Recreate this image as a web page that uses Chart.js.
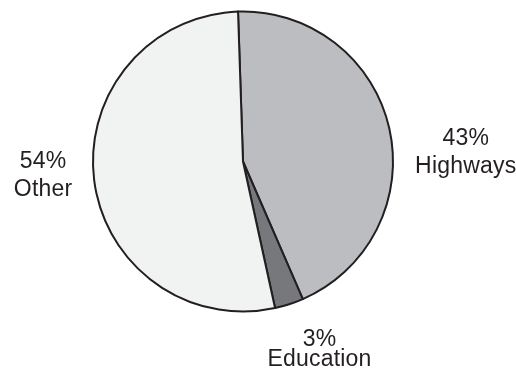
<!DOCTYPE html>
<html>
<head>
<meta charset="utf-8">
<script src="https://cdn.jsdelivr.net/npm/chart.js@4/dist/chart.umd.min.js"></script>
<style>
  html, body { margin: 0; padding: 0; background: #fff; }
  #wrap { width: 516px; height: 371px; }
</style>
</head>
<body>
<div id="wrap"><canvas id="myPieChart" width="516" height="371"></canvas></div>
<script>
// slices, clockwise from the top
var categories = ['Highways', 'Education', 'Other'];
var shares = [44, 3.1, 52.9];          // share of the circle as drawn
var shareText = ['43%', '3%', '54%'];  // printed next to each slice
var sliceColors = ['#bcbdc0', '#77787b', '#f1f2f2'];

// where each label sits, in units of the pie radius from its centre,
// plus the gap between the two text lines
var labelPlace = [
    { dx: 1.485, dy: -0.107, gap: 28 },
    { dx: 0.51, dy: 1.23, gap: 20 },
    { dx: -1.333, dy: 0.04, gap: 28 }
];

var sliceLabels = {
    id: 'sliceLabels',
    afterDatasetsDraw: function(chart) {
        var ctx = chart.ctx;
        var arcs = chart.getDatasetMeta(0).data;
        ctx.save();
        ctx.fillStyle = '#231f20';
        ctx.font = '23px "Liberation Sans", Arial, sans-serif';
        ctx.letterSpacing = '0.2px';
        ctx.textAlign = 'center';
        ctx.textBaseline = 'alphabetic';
        arcs.forEach(function(arc, i) {
            var p = labelPlace[i];
            var r = arc.outerRadius;
            var x = arc.x + p.dx * r;
            var y = arc.y + p.dy * r;
            ctx.fillText(shareText[i], x, y);
            ctx.fillText(categories[i], x, y + p.gap);
        });
        ctx.restore();
    }
};

var ctxPie = document.getElementById('myPieChart').getContext('2d');
var myPieChart = new Chart(ctxPie, {
    type: 'pie',
    data: {
        labels: categories,
        datasets: [{
            data: shares,
            backgroundColor: sliceColors,
            borderColor: '#231f20',
            borderWidth: 2,
            borderJoinStyle: 'round',
            radius: 150
        }]
    },
    options: {
        responsive: false,
        animation: false,
        rotation: -1.9,
        layout: { padding: { left: 0, right: 30, top: 11, bottom: 59 } },
        plugins: {
            legend: { display: false },
            tooltip: { enabled: false }
        }
    },
    plugins: [sliceLabels]
});
</script>
</body>
</html>
